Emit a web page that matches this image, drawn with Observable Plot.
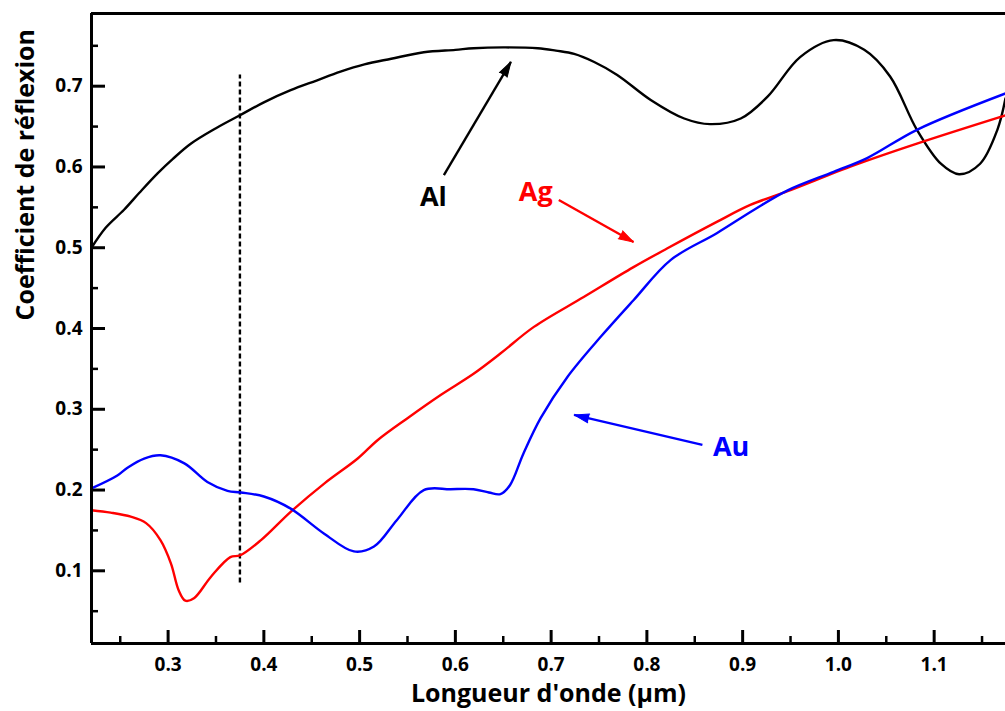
<!DOCTYPE html>
<html><head><meta charset="utf-8">
<script src="https://cdn.jsdelivr.net/npm/d3@7"></script>
<script src="https://cdn.jsdelivr.net/npm/@observablehq/plot@0.6"></script>
<style>body{margin:0;background:#fff;overflow:hidden} svg{display:block}</style>
</head><body><div id="chart"></div>
<script>
// Aluminium (Al)
const alX = [0.22,0.235,0.254,0.27,0.289,0.305,0.324,0.35,0.375,0.40,0.428,0.455,0.48,0.505,0.533,0.567,0.60,0.619,0.65,0.686,0.705,0.724,0.745,0.769,0.804,0.839,0.866,0.898,0.926,0.960,0.995,1.027,1.054,1.082,1.107,1.126,1.148,1.166,1.1745];
const alY = [0.50,0.525,0.547,0.568,0.592,0.61,0.629,0.648,0.664,0.68,0.695,0.707,0.718,0.727,0.734,0.742,0.745,0.747,0.748,0.747,0.744,0.740,0.730,0.714,0.683,0.660,0.653,0.660,0.687,0.736,0.757,0.745,0.712,0.646,0.604,0.591,0.604,0.646,0.685];
// Silver (Ag)
const agX = [0.22,0.24,0.261,0.277,0.292,0.303,0.311,0.318,0.327,0.345,0.365,0.375,0.397,0.428,0.463,0.498,0.519,0.55,0.585,0.619,0.647,0.682,0.734,0.786,0.821,0.873,0.908,0.947,1.016,1.082,1.1745];
const agY = [0.175,0.172,0.167,0.159,0.138,0.109,0.076,0.063,0.066,0.093,0.117,0.119,0.138,0.173,0.208,0.239,0.262,0.289,0.318,0.344,0.369,0.402,0.439,0.476,0.499,0.532,0.553,0.570,0.602,0.629,0.664];
// Gold (Au)
const auX = [0.22,0.247,0.258,0.275,0.292,0.317,0.341,0.362,0.376,0.40,0.428,0.463,0.494,0.515,0.539,0.567,0.595,0.619,0.635,0.647,0.657,0.671,0.689,0.717,0.752,0.786,0.825,0.873,0.912,0.947,0.995,1.03,1.082,1.1745];
const auY = [0.202,0.218,0.228,0.239,0.243,0.233,0.210,0.199,0.197,0.192,0.177,0.146,0.124,0.130,0.163,0.200,0.201,0.201,0.197,0.195,0.206,0.245,0.289,0.340,0.390,0.435,0.485,0.518,0.547,0.571,0.594,0.611,0.646,0.691];

const seriesNames = ["Al","Ag","Au"];
const seriesColors = ["black","red","blue"];
// label positions (data units)
const labelX = [0.577,0.684,0.888];
const labelY = [0.562,0.568,0.253];
// arrows: tail -> head (data units)
const arrowTailX = [0.588,0.708,0.858];
const arrowTailY = [0.590,0.559,0.256];
const arrowHeadX = [0.658,0.786,0.724];
const arrowHeadY = [0.730,0.507,0.293];
// dashed marker line
const markerX = [0.375];
const markerY1 = [0.085];
const markerY2 = [0.714];

const xDomain = [0.22, 1.1745];
const yDomain = [0.01, 0.79];
const xMajor = [0.3,0.4,0.5,0.6,0.7,0.8,0.9,1.0,1.1];
const xMinor = [0.25,0.35,0.45,0.55,0.65,0.75,0.85,0.95,1.05,1.15];
const yMajor = [0.1,0.2,0.3,0.4,0.5,0.6,0.7];
const yMinor = [0.05,0.15,0.25,0.35,0.45,0.55,0.65,0.75];
const xTitle = "Longueur d'onde (µm)";
const yTitle = "Coefficient de réflexion";

const W = 1005, H = 711, ML = 91, MR = 0, MT = 13, MB = 68;
const FW = W - ML - MR, FH = H - MT - MB;
const px = x => ML + (x - xDomain[0]) / (xDomain[1] - xDomain[0]) * FW;
const py = y => H - MB - (y - yDomain[0]) / (yDomain[1] - yDomain[0]) * FH;
// pixel tick length -> data units
const dxu = p => p * (xDomain[1] - xDomain[0]) / FW;
const dyu = p => p * (yDomain[1] - yDomain[0]) / FH;

const mk = (xs, ys, name) => xs.map((x, i) => ({x, y: ys[i], name}));
const al = mk(alX, alY, "Al"), ag = mk(agX, agY, "Ag"), au = mk(auX, auY, "Au");
const labels = seriesNames.map((n, i) => ({text: n, x: labelX[i], y: labelY[i], color: seriesColors[i]}));
const arrows = seriesNames.map((n, i) => {
  const dx = px(arrowHeadX[i]) - px(arrowTailX[i]);
  const dy = py(arrowHeadY[i]) - py(arrowTailY[i]);
  return {tx: arrowTailX[i], ty: arrowTailY[i], hx: arrowHeadX[i], hy: arrowHeadY[i], color: seriesColors[i],
          angle: Math.atan2(dx, -dy) * 180 / Math.PI};
});
const marker = markerX.map((x, i) => ({x, y1: markerY1[i], y2: markerY2[i]}));
const xTicks = xMajor.map(v => ({v, len: 13, w: 3})).concat(xMinor.map(v => ({v, len: 7, w: 2.5})));
const yTicks = yMajor.map(v => ({v, len: 14, w: 3})).concat(yMinor.map(v => ({v, len: 7, w: 2.5})));

const font = "'Open Sans', sans-serif";
const chart = Plot.plot({
  width: W, height: H,
  marginLeft: ML, marginRight: MR, marginTop: MT, marginBottom: MB,
  x: {domain: xDomain},
  y: {domain: yDomain},
  style: {fontFamily: font, background: "white", color: "black"},
  marks: [
    Plot.axisX(xMajor, {tickSize: 0, tickPadding: 14, fontSize: 19, fontWeight: "bold", tickFormat: d3.format(".1f"), label: null}),
    Plot.axisY(yMajor, {tickSize: 0, tickPadding: 9, fontSize: 19, fontWeight: "bold", tickFormat: d3.format(".1f"), label: null}),
    // inward ticks
    Plot.ruleX(xTicks.filter(d => d.w === 3), {x: "v", y1: yDomain[0], y2: d => yDomain[0] + dyu(d.len), stroke: "black", strokeWidth: 3}),
    Plot.ruleX(xTicks.filter(d => d.w !== 3), {x: "v", y1: yDomain[0], y2: d => yDomain[0] + dyu(d.len), stroke: "black", strokeWidth: 2.5}),
    Plot.ruleY(yTicks.filter(d => d.w === 3), {y: "v", x1: xDomain[0], x2: d => xDomain[0] + dxu(d.len), stroke: "black", strokeWidth: 3}),
    Plot.ruleY(yTicks.filter(d => d.w !== 3), {y: "v", x1: xDomain[0], x2: d => xDomain[0] + dxu(d.len), stroke: "black", strokeWidth: 2.5}),
    // dashed marker
    Plot.ruleX(marker, {x: "x", y1: "y1", y2: "y2", strokeWidth: 2.4, strokeDasharray: "5,3"}),
    // curves
    Plot.line(al, {x: "x", y: "y", stroke: "black", strokeWidth: 2.4, curve: "catmull-rom"}),
    Plot.line(ag, {x: "x", y: "y", stroke: "red", strokeWidth: 2.4, curve: "catmull-rom"}),
    Plot.line(au, {x: "x", y: "y", stroke: "blue", strokeWidth: 2.4, curve: "catmull-rom"}),
    // frame lines
    Plot.ruleX([xDomain[0]], {strokeWidth: 3}),
    Plot.ruleY([yDomain[0]], {strokeWidth: 3}),
    Plot.ruleY([yDomain[1]], {strokeWidth: 3}),
    // annotations
    Plot.link(arrows, {x1: "tx", y1: "ty", x2: "hx", y2: "hy", stroke: "color", strokeWidth: 2.4}),
    Plot.vector(arrows, {x: "hx", y: "hy", rotate: "angle", length: 15, r: 4.5, shape: "spike", anchor: "end", fill: "color", stroke: "color", strokeWidth: 1}),
    Plot.text(labels, {x: "x", y: "y", text: "text", fill: "color", fontSize: 27, fontWeight: "bold"}),
    Plot.text([xTitle], {frameAnchor: "bottom", dy: 58, fontSize: 25, fontWeight: "bold", text: d => d}),
    Plot.text([yTitle], {frameAnchor: "left", dx: -66, dy: -8, rotate: -90, fontSize: 25, fontWeight: "bold", text: d => d})
  ]
});
document.getElementById("chart").append(chart);
</script>
</body></html>
